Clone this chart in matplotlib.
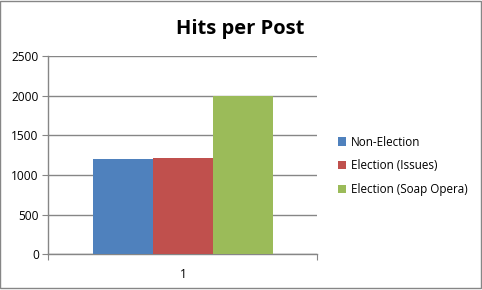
import matplotlib
matplotlib.use("Agg")
import matplotlib.pyplot as plt
from matplotlib.patches import Rectangle

categories = ["1"]
series_names = ["Non-Election", "Election (Issues)", "Election (Soap Opera)"]
series_values = [1200, 1215, 2000]
colors = ["#4F81BD", "#C0504D", "#9BBB59"]
yticks = [0, 500, 1000, 1500, 2000, 2500]

plt.rcParams['font.family'] = ['Open Sans', 'DejaVu Sans']

fig = plt.figure(figsize=(4.82, 2.90), dpi=100)
ax = fig.add_axes([0.1006, 0.123, 0.558, 0.683])

bw = 0.223
offsets = [-bw, 0, bw]
for name, v, c, o in zip(series_names, series_values, colors, offsets):
    ax.bar(1 + o, v, width=bw, color=c, label=name, zorder=3)

ax.set_xlim(0.5, 1.5)
ax.set_ylim(0, 2500)
ax.set_yticks(yticks)
ax.set_yticklabels([str(t) for t in yticks], fontsize=8.6)
ax.yaxis.grid(True, color="#868686", linewidth=1.0, zorder=0)
ax.set_axisbelow(True)
ax.set_xticks([0.5, 1.5])
ax.set_xticklabels(["", ""])
ax.set_xticks([1.0], minor=True)
ax.set_xticklabels(categories, minor=True, fontsize=8.6)
ax.tick_params(axis='x', which='minor', length=0, pad=10)
ax.tick_params(axis='x', which='major', length=4, color="#868686", direction='out')
ax.tick_params(axis='y', length=4, color="#868686", direction='out', pad=3)
for s in ["top", "right"]:
    ax.spines[s].set_visible(False)
for s in ["left", "bottom"]:
    ax.spines[s].set_color("#868686")
    ax.spines[s].set_linewidth(1.0)

fig.text(0.498, 0.9, "Hits per Post", ha="center", va="center",
         fontsize=14.5, fontweight="bold")

leg = fig.legend(loc="center left", bbox_to_anchor=(0.68, 0.428), frameon=False,
                 fontsize=8.4, handlelength=0.7, handleheight=0.7,
                 handletextpad=0.35, labelspacing=0.92)

fig.patches.append(Rectangle((0.001, 0.006), 0.996, 0.99, transform=fig.transFigure,
                             fill=False, edgecolor="#868686", linewidth=1.0))

fig.savefig("out.png", dpi=100)
